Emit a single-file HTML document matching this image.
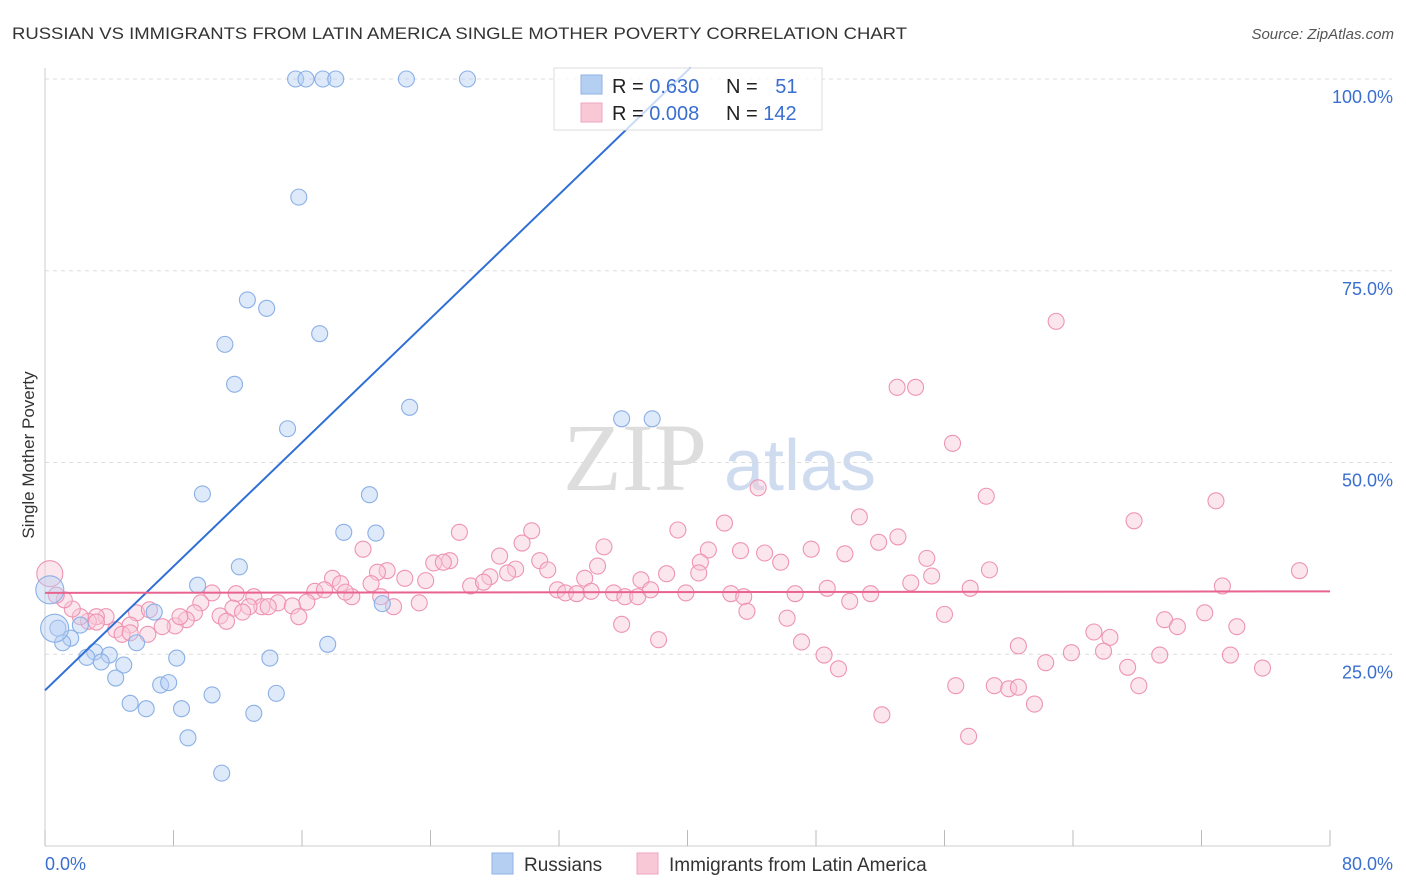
<!DOCTYPE html>
<html><head><meta charset="utf-8"><style>
body{margin:0;background:#fff;font-family:"Liberation Sans",sans-serif;}
svg{display:block}
</style></head><body>
<svg id="chart" width="1406" height="892">
<text x="12" y="39" font-size="17" fill="#333" textLength="895" lengthAdjust="spacingAndGlyphs">RUSSIAN VS IMMIGRANTS FROM LATIN AMERICA SINGLE MOTHER POVERTY CORRELATION CHART</text>
<text x="1394" y="39" font-size="15" fill="#555" font-style="italic" text-anchor="end">Source: ZipAtlas.com</text>
<text x="34" y="455" font-size="17" fill="#333" text-anchor="middle" transform="rotate(-90 34 455)">Single Mother Poverty</text>
<g><text x="635" y="490" font-size="96" fill="#ddd" font-family="Liberation Serif,serif" text-anchor="middle">ZIP</text><text x="800" y="490" font-size="72" fill="#cfdcef" text-anchor="middle">atlas</text></g>
<g id="grid"></g><g id="marks"></g>
<g>
<rect x="554" y="68" width="268" height="62" fill="#fff" fill-opacity="0.75" stroke="#ddd"/>
<rect x="581" y="75" width="21" height="19" fill="#b5cff3" stroke="#8fb3e6"/>
<rect x="581" y="103" width="21" height="19" fill="#f9c8d7" stroke="#f0a5bd"/>
<text x="612" y="93" font-size="20" fill="#222">R = <tspan fill="#3a6fd0">0.630</tspan></text>
<text x="726" y="93" font-size="20" fill="#222">N = <tspan fill="#3a6fd0" dx="12">51</tspan></text>
<text x="612" y="120" font-size="20" fill="#222">R = <tspan fill="#3a6fd0">0.008</tspan></text>
<text x="726" y="120" font-size="20" fill="#222">N = <tspan fill="#3a6fd0">142</tspan></text>
</g>
<g>
<rect x="492" y="853" width="21" height="21" fill="#b5cff3" stroke="#8fb3e6"/>
<text x="524" y="871" font-size="19" fill="#333">Russians</text>
<rect x="637" y="853" width="21" height="21" fill="#f9c8d7" stroke="#f0a5bd"/>
<text x="669" y="871" font-size="19" fill="#333">Immigrants from Latin America</text>
</g>
</svg>
<script>
const xTicks=[0,80];
const yTicks=[25,50,75,100];
const blueX=[15.6,16.25,17.3,18.1,22.5,26.3,15.8,12.6,13.8,17.1,11.2,11.8,22.7,15.1,35.9,37.8,9.8,20.2,18.6,20.6,12.1,9.5,21.0,6.8,5.7,17.6,2.2,0.8,1.6,1.1,3.1,4.0,2.6,3.5,4.9,8.2,14.0,4.4,7.2,7.7,10.4,14.4,5.3,6.3,8.5,13.0,8.9,11.0];
const blueY=[100,100,100,100,100,100,84.6,71.2,70.1,66.8,65.4,60.2,57.2,54.4,55.7,55.7,45.9,45.8,40.9,40.8,36.4,34.0,31.6,30.5,26.5,26.3,28.8,28.4,27.1,26.5,25.3,24.9,24.6,24.0,23.6,24.5,24.5,21.9,21.0,21.3,19.7,19.9,18.6,17.9,17.9,17.3,14.1,9.5];
const blueBigX=[0.3,0.6], blueBigY=[33.4,28.4];
const pinkX=[62.95,53.05,54.2,56.5,44.4,58.6,72.9,67.8,50.7,42.3,39.4,30.3,25.8,53.1,51.9,34.8,29.7,19.8,28.3,25.2,24.2,24.8,30.8,34.4,54.9,41.3,43.3,44.8,47.7,49.8,40.8,45.8,58.8,78.1,55.2,29.3,31.3,26.5,27.7,28.8,27.3,21.3,22.4,20.7,23.7,17.9,20.3,18.4,16.8,17.4,19.1,18.7,37.1,38.7,40.7,53.9,57.6,48.7,73.3,31.9,32.4,33.1,33.6,34.0,35.4,36.1,36.9,37.7,39.9,42.7,43.5,46.7,50.1,51.4,10.4,11.9,13.0,13.5,14.5,16.3,15.4,12.7,13.9,9.7,20.9,21.7,23.3,11.7,10.9,12.3,9.3,8.8,8.1,7.3,6.4,5.7,5.3,4.4,4.8,3.8,3.2,2.7,2.2,1.7,1.2,0.7,15.8,43.7,46.2,56.0,72.2,69.7,70.5,74.2,65.3,66.3,35.9,38.2,47.1,48.5,49.4,60.6,63.9,65.9,62.3,67.4,69.4,73.8,75.8,56.7,59.1,60.0,60.6,61.6,68.1,52.1,57.5,6.5,3.2,5.3,8.4,11.3];
const pinkY=[68.4,59.8,59.8,52.5,46.7,45.6,45.0,42.4,42.9,42.1,41.2,41.1,40.9,40.3,39.6,39.0,39.5,38.7,37.8,37.2,36.9,37.0,37.2,36.5,37.5,38.6,38.5,38.2,38.7,38.1,37.0,37.0,36.0,35.9,35.2,36.1,36.0,33.9,35.1,35.6,34.4,35.9,34.9,35.7,34.6,34.9,34.2,34.2,33.2,33.4,32.5,33.1,34.7,35.5,35.6,34.3,33.6,33.6,33.9,33.4,33.0,32.9,34.9,33.2,33.0,32.5,32.5,33.4,33.0,32.9,32.5,32.9,31.9,32.9,33.0,32.9,32.5,31.2,31.7,31.8,31.3,31.2,31.2,31.7,32.5,31.2,31.7,31.0,30.0,30.5,30.4,29.5,28.7,28.6,27.6,30.4,28.8,28.2,27.6,29.9,29.9,29.3,29.9,30.9,32.1,32.7,29.9,30.6,29.7,30.2,30.4,29.5,28.6,28.6,27.9,27.2,28.9,26.9,26.6,24.9,23.1,26.1,25.2,25.4,23.9,23.3,24.9,24.9,23.2,20.9,20.9,20.5,20.7,18.5,20.9,17.1,14.3,30.8,29.2,27.8,29.9,29.3];
const pinkBigX=[0.3], pinkBigY=[35.5];
const blueTrend=[20.3,2.02], pinkTrend=[33.0,0.0025];
const NS='http://www.w3.org/2000/svg';
const sx=v=>45+v*(1285/80), sy=v=>846-v*7.67;
const grid=document.getElementById('grid'), marks=document.getElementById('marks');
function mk(tag,attrs,parent){const e=document.createElementNS(NS,tag);for(const k in attrs)e.setAttribute(k,attrs[k]);parent.appendChild(e);return e;}
yTicks.forEach(t=>{
 const l=mk('line',{x1:45,x2:1392,y1:sy(t),y2:sy(t),stroke:'#ddd','stroke-dasharray':'4,4'},grid);
 
 
 const tx=mk('text',{x:1393,y:sy(t)+24,'font-size':18,fill:'#3a6fd0','text-anchor':'end'},grid);
 tx.textContent=t.toFixed(1)+'%';
 
 
});
const ax=mk('line',{x1:45,x2:45,y1:68,y2:846,stroke:'#ccc'},grid);


const bx=mk('line',{x1:45,x2:1330,y1:846,y2:846,stroke:'#ccc'},grid);


for(let i=0;i<=10;i++){const t=mk('line',{x1:sx(i*8),x2:sx(i*8),y1:830,y2:846,stroke:'#bbb'},grid);
 
 }
xTicks.forEach((t,i)=>{const tx=mk('text',{x:i?1393:45,y:870,'font-size':18,fill:'#3a6fd0','text-anchor':i?'end':'start'},grid);
 tx.textContent=t.toFixed(1)+'%';
 
 });
function dots(X,Y,r,fill,stroke,name){for(let i=0;i<Math.min(X.length,Y.length);i++){
 const c=mk('circle',{cx:sx(X[i]),cy:sy(Y[i]),r:r,fill:fill,'fill-opacity':0.45,stroke:stroke,'stroke-width':1.1},marks);
 
 }}
dots(pinkX,pinkY,8,'#f9c8d7','#ee94b2','latin-america-point');
dots(pinkBigX,pinkBigY,13,'#f9c8d7','#ee94b2','latin-america-point');
dots(blueX,blueY,8,'#b5cff3','#8ab0e6','russians-point');
dots(blueBigX,blueBigY,14,'#b5cff3','#8ab0e6','russians-point');
const bEnd=(101.5-blueTrend[0])/blueTrend[1];
const bl=mk('line',{x1:sx(0),y1:sy(blueTrend[0]),x2:sx(bEnd),y2:sy(blueTrend[0]+blueTrend[1]*bEnd),stroke:'#2f6fd6','stroke-width':2},marks);


const pl=mk('line',{x1:sx(0),y1:sy(pinkTrend[0]),x2:sx(80),y2:sy(pinkTrend[0]+pinkTrend[1]*80),stroke:'#e8648e','stroke-width':2},marks);


</script>
</body></html>
